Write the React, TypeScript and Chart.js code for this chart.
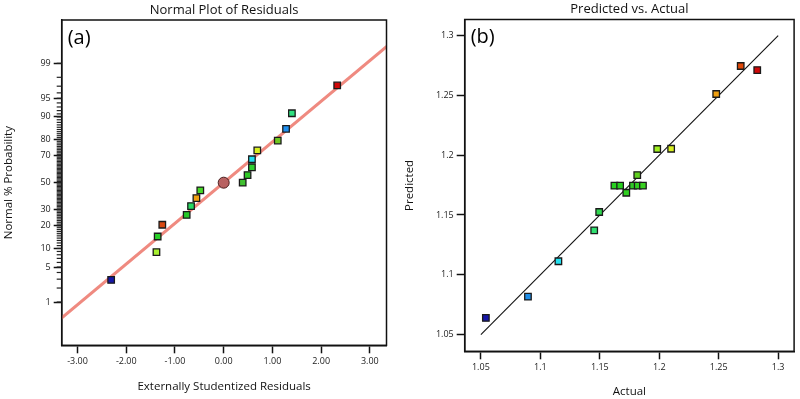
import React, { useEffect, useRef } from "react";
import { Chart, registerables } from "chart.js";
Chart.register(...registerables);

// ---- Panel (a): normal plot of residuals ----
const residuals = [-2.31, -1.38, -1.355, -1.26, -0.76, -0.67, -0.56, -0.48, 0.39, 0.49, 0.58, 0.58, 0.69, 1.11, 1.28, 1.40, 2.33];
const probabilities = [2.9, 8.8, 14.7, 20.6, 26.5, 32.4, 38.2, 44.1, 50.0, 55.9, 61.8, 67.6, 73.5, 79.4, 85.3, 91.2, 97.1];
const residualColors = ["#1616a8", "#a8f030", "#28d028", "#d84810", "#28c828", "#28d860", "#f0a010", "#48d828", "#40c030", "#30c828", "#30d030", "#22e0f0", "#d8f020", "#70c820", "#2090f0", "#30e080", "#d00808"];
const lineResiduals = [-3.6, 3.6];
const lineProbabilities = [0.215, 99.785];
const centerResidual = [0];
const centerProbability = [50];
const probTickLabels = [1, 5, 10, 20, 30, 50, 70, 80, 90, 95, 99];
const residualTicks = [-3, -2, -1, 0, 1, 2, 3];

// ---- Panel (b): predicted vs actual ----
const actual = [1.0542, 1.0896, 1.1152, 1.1453, 1.1495, 1.1623, 1.1671, 1.1723, 1.1779, 1.1815, 1.1819, 1.1863, 1.1983, 1.2100, 1.2479, 1.2685, 1.2824];
const predicted = [1.0639, 1.0817, 1.1113, 1.1372, 1.1525, 1.1745, 1.1745, 1.1686, 1.1745, 1.1834, 1.1745, 1.1745, 1.2052, 1.2054, 1.2512, 1.2746, 1.2712];
const actualColors = ["#1616a8", "#1e8ee8", "#22e0f0", "#30e070", "#30d850", "#28d020", "#28d020", "#30d020", "#30c828", "#60d020", "#30d020", "#38d020", "#a0f020", "#d8f020", "#f0a010", "#e04808", "#d00808"];
const diagActual = [1.05, 1.3];
const diagPredicted = [1.05, 1.3];
const pvaTicks = [1.05, 1.1, 1.15, 1.2, 1.25, 1.3];

const FONT = "'Open Sans', 'Noto Sans', sans-serif";

// inverse normal CDF (Acklam)
function probit(p: number): number {
  const a = [-3.969683028665376e1, 2.209460984245205e2, -2.759285104469687e2, 1.38357751867269e2, -3.066479806614716e1, 2.506628277459239];
  const b = [-5.447609879822406e1, 1.615858368580409e2, -1.556989798598866e2, 6.680131188771972e1, -1.328068155288572e1];
  const c = [-7.784894002430293e-3, -3.223964580411365e-1, -2.400758277161838, -2.549732539343734, 4.374664141464968, 2.938163982698783];
  const d = [7.784695709041462e-3, 3.224671290700398e-1, 2.445134137142996, 3.754408661907416];
  const pl = 0.02425;
  if (p < pl) {
    const q = Math.sqrt(-2 * Math.log(p));
    return (((((c[0] * q + c[1]) * q + c[2]) * q + c[3]) * q + c[4]) * q + c[5]) / ((((d[0] * q + d[1]) * q + d[2]) * q + d[3]) * q + 1);
  }
  if (p <= 1 - pl) {
    const q = p - 0.5;
    const r = q * q;
    return (((((a[0] * r + a[1]) * r + a[2]) * r + a[3]) * r + a[4]) * r + a[5]) * q / (((((b[0] * r + b[1]) * r + b[2]) * r + b[3]) * r + b[4]) * r + 1);
  }
  const q = Math.sqrt(-2 * Math.log(1 - p));
  return -(((((c[0] * q + c[1]) * q + c[2]) * q + c[3]) * q + c[4]) * q + c[5]) / ((((d[0] * q + d[1]) * q + d[2]) * q + d[3]) * q + 1);
}
const zOf = (pct: number) => probit(pct / 100);

const framePlugin = {
  id: "frame",
  afterDraw(chart: any, _args: any, opts: any) {
    const { ctx, chartArea: a } = chart;
    ctx.save();
    ctx.strokeStyle = "#111";
    ctx.lineWidth = 1.5;
    ctx.strokeRect(a.left, a.top, a.right - a.left, a.bottom - a.top);
    ctx.fillStyle = "#000";
    ctx.font = `20px ${FONT}`;
    ctx.textBaseline = "top";
    ctx.textAlign = "left";
    ctx.fillText(opts.label, a.left + 6, a.top + 8);
    ctx.fillStyle = "#111";
    ctx.font = `13px ${FONT}`;
    ctx.textBaseline = "middle";
    ctx.textAlign = "center";
    ctx.fillText(opts.title, (a.left + a.right) / 2, opts.titleY);
    if (opts.minor) {
      const y = chart.scales.y;
      ctx.strokeStyle = "#222";
      ctx.lineWidth = 1.2;
      for (let p = 1; p <= 99; p++) {
        const py = y.getPixelForValue(zOf(p));
        ctx.beginPath();
        ctx.moveTo(a.left - 5, py);
        ctx.lineTo(a.left, py);
        ctx.stroke();
      }
    }
    ctx.restore();
  },
};

function makeScale(min: number, max: number, ticks: number[], fmt: (v: number) => string, title: string, titlePad: any, fixed: { width?: number; height?: number }) {
  return {
    type: "linear",
    min,
    max,
    afterBuildTicks: (s: any) => {
      s.ticks = ticks.map((v) => ({ value: v }));
    },
    afterFit: (s: any) => {
      if (fixed.width !== undefined) s.width = fixed.width;
      if (fixed.height !== undefined) s.height = fixed.height;
    },
    ticks: {
      callback: (v: any) => fmt(Number(v)),
      font: { family: FONT, size: 9 },
      color: "#222",
      padding: 3,
      autoSkip: false,
      maxRotation: 0,
    },
    grid: { drawOnChartArea: false, drawTicks: true, tickLength: 8, tickColor: "#111", tickWidth: 1.5 },
    border: { display: true, color: "#111", width: 1.5 },
    title: { display: true, text: title, font: { family: FONT, size: 11.5 }, color: "#111", padding: titlePad },
  };
}

function LeftChart() {
  const ref = useRef<HTMLCanvasElement>(null);
  useEffect(() => {
    const chart = new Chart(ref.current!, {
      type: "scatter",
      data: {
        datasets: [
          {
            data: centerResidual.map((x, i) => ({ x, y: zOf(centerProbability[i]) })),
            pointStyle: "circle",
            pointRadius: 5.5,
            backgroundColor: "#b86262",
            borderColor: "#4a1e1e",
            borderWidth: 1,
            order: 0,
          },
          {
            data: residuals.map((x, i) => ({ x, y: zOf(probabilities[i]) })),
            pointStyle: "rect",
            pointRadius: 4.6,
            backgroundColor: residualColors,
            borderColor: "#1a1a1a",
            borderWidth: 1.3,
            order: 1,
          },
          {
            data: lineResiduals.map((x, i) => ({ x, y: zOf(lineProbabilities[i]) })),
            showLine: true,
            borderColor: "#ef8a80",
            borderWidth: 3,
            pointRadius: 0,
            order: 3,
          },
        ],
      },
      options: {
        animation: false,
        responsive: false,
        maintainAspectRatio: false,
        layout: { padding: { left: 0, right: 13.5, top: 20, bottom: 0 } },
        plugins: {
          legend: { display: false },
          tooltip: { enabled: false },
          title: { display: false },
          frame: { label: "(a)", minor: true, title: "Normal Plot of Residuals", titleY: 10 },
        } as any,
        scales: {
          x: makeScale(-3.325, 3.342, residualTicks, (v) => v.toFixed(2), "Externally Studentized Residuals", { top: 0, bottom: 5.8 }, { height: 53.7 }),
          y: {
            ...makeScale(-3.17, 3.171, probTickLabels.map(zOf), (v) => {
              let best = probTickLabels[0];
              for (const p of probTickLabels) if (Math.abs(zOf(p) - v) < Math.abs(zOf(best) - v)) best = p;
              return String(best);
            }, "Normal % Probability", { top: 2.3, bottom: 0 }, { width: 61.7 }),
          },
        } as any,
      },
      plugins: [framePlugin],
    } as any);
    return () => chart.destroy();
  }, []);
  return <canvas ref={ref} width={400} height={399} style={{ position: "absolute", left: 0, top: 0, display: "block" }} />;
}

function RightChart() {
  const ref = useRef<HTMLCanvasElement>(null);
  useEffect(() => {
    const fmt = (v: number) => String(parseFloat(v.toFixed(2)));
    const chart = new Chart(ref.current!, {
      type: "scatter",
      data: {
        datasets: [
          {
            data: actual.map((x, i) => ({ x, y: predicted[i] })),
            pointStyle: "rect",
            pointRadius: 4.6,
            backgroundColor: actualColors,
            borderColor: "#1a1a1a",
            borderWidth: 1.3,
            order: 1,
          },
          {
            data: diagActual.map((x, i) => ({ x, y: diagPredicted[i] })),
            showLine: true,
            borderColor: "#111",
            borderWidth: 1.1,
            pointRadius: 0,
            order: 3,
          },
        ],
      },
      options: {
        animation: false,
        responsive: false,
        maintainAspectRatio: false,
        layout: { padding: { left: 0, right: 4, top: 19.5, bottom: 0 } },
        plugins: {
          legend: { display: false },
          tooltip: { enabled: false },
          title: { display: false },
          frame: { label: "(b)", minor: false, title: "Predicted vs. Actual", titleY: 9 },
        } as any,
        scales: {
          x: makeScale(1.0364, 1.3134, pvaTicks, fmt, "Actual", { top: 0, bottom: 0 }, { height: 47.7 }),
          y: makeScale(1.036, 1.3135, pvaTicks, fmt, "Predicted", { top: 3.3, bottom: 0 }, { width: 64.7 }),
        } as any,
      },
      plugins: [framePlugin],
    } as any);
    return () => chart.destroy();
  }, []);
  return <canvas ref={ref} width={400} height={399} style={{ position: "absolute", left: 400, top: 0, display: "block" }} />;
}

export default function App() {
  return (
    <div style={{ position: "fixed", left: 0, top: 0, width: 800, height: 399, background: "#fff", overflow: "hidden" }}>
      <LeftChart />
      <RightChart />
    </div>
  );
}
